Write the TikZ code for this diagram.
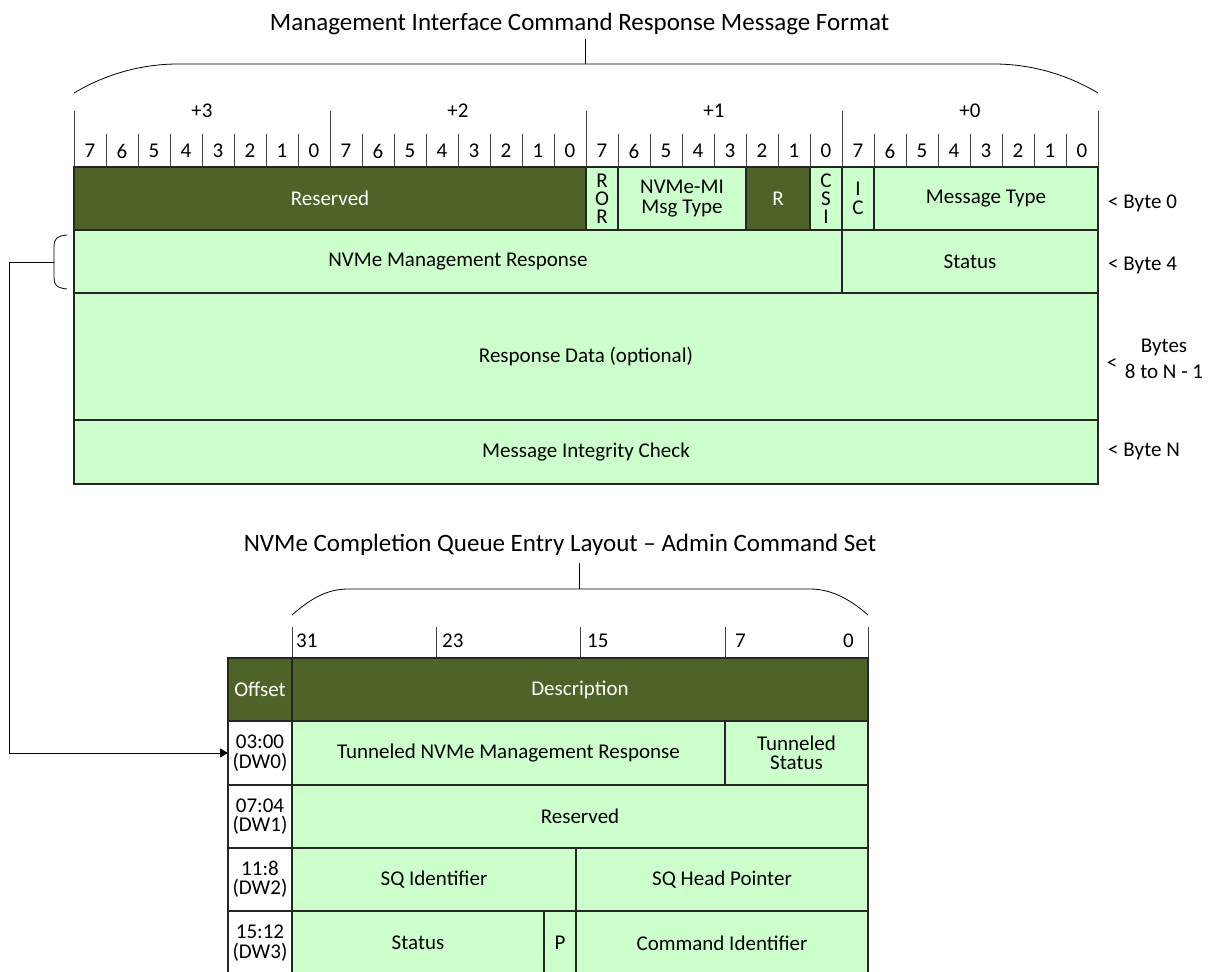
\documentclass[tikz,border=0pt]{standalone}
\usepackage{fontspec}
\setmainfont{Carlito}
\usetikzlibrary{arrows.meta}
\definecolor{olive}{HTML}{4F6228}
\definecolor{lite}{HTML}{CCFFCC}
\definecolor{edge}{HTML}{262626}
\definecolor{rule}{HTML}{404040}
\newcommand{\bodyf}{\fontsize{21}{19.5}\selectfont}
\newcommand{\stackf}{\fontsize{21}{18}\selectfont}
\newcommand{\ttlf}{\fontsize{25}{30}\selectfont}
\tikzset{
  cell/.style={draw=edge, line width=1.3pt, fill=lite, inner sep=0pt, outer sep=0pt,
    anchor=north west, align=center, font=\bodyf},
  dark/.style={cell, fill=olive, text=white},
  blank/.style={cell, fill=white},
  stack/.style={cell, font=\stackf},
  ruler/.style={draw=rule, line width=1pt},
  brace/.style={draw=black, line width=0.8pt},
  lab/.style={font=\bodyf, inner sep=0pt},
  ttl/.style={font=\ttlf, inner sep=0pt, anchor=base},
  link/.style={draw=black, line width=0.9pt, -{Triangle[length=8pt,width=9pt]}},
}

\begin{document}
\begin{tikzpicture}[x=1pt, y=-1pt]
  \useasboundingbox (0,0) rectangle (1209,971);

  % response message format
  \node[ttl] (ttlA) at (579.5,31) {Management Interface Command Response Message Format};
  \draw[brace] (585,39) -- (585,64);
  \draw[brace] (74,93) .. controls (104,75) and (140,64) .. (178,64) -- (994,64)
    .. controls (1032,64) and (1068,75) .. (1098,93);

  \foreach \k in {0,8,16,24,32}
    \draw[ruler] (74+32*\k,111) -- (74+32*\k,167);
  \foreach \k in {1,...,31}
    \draw[ruler] (74+32*\k,134) -- (74+32*\k,167);
  \foreach \b/\t in {0/+3,1/+2,2/+1,3/+0}
    \node[lab] (byte\b) at (202+256*\b,111) {\t};
  \foreach \k in {0,...,31}{
    \pgfmathtruncatemacro\bit{7-mod(\k,8)}
    \node[lab] (bit\k) at (90+32*\k,151) {\bit};
  }

  \node[dark, minimum width=512pt, minimum height=63pt] (rsvd) at (74,167) {Reserved};
  \node[stack, minimum width=32pt, minimum height=63pt] (ror) at (586,167) {R\\O\\R};
  \node[cell, minimum width=128pt, minimum height=63pt] (mimt) at (618,167) {NVMe-MI\\Msg Type};
  \node[dark, minimum width=64pt, minimum height=63pt] (rbits) at (746,167) {R};
  \node[stack, minimum width=32pt, minimum height=63pt] (csi) at (810,167) {C\\S\\I};
  \node[cell, minimum width=32pt, minimum height=63pt] (ic) at (842,167) {I\\C};
  \node[cell, minimum width=224pt, minimum height=63pt] (mtype) at (874,167) {Message Type};
  \node[cell, minimum width=768pt, minimum height=63pt] (mgmt) at (74,230) {NVMe Management Response};
  \node[cell, minimum width=256pt, minimum height=63pt] (stat) at (842,230) {Status};
  \node[cell, minimum width=1024pt, minimum height=127pt] (rdata) at (74,293) {Response Data (optional)};
  \node[cell, minimum width=1024pt, minimum height=64pt] (mic) at (74,420) {Message Integrity Check};

  \node[lab, anchor=west] (b0) at (1108,203) {< Byte 0};
  \node[lab, anchor=west] (b4) at (1108,265) {< Byte 4};
  \node[lab] (lt) at (1112,364) {<};
  \node[lab, align=center, font=\fontsize{21}{26}\selectfont] (b8) at (1164,359) {Bytes\\8 to N - 1};
  \node[lab, anchor=west] (bn) at (1108,451) {< Byte N};

  % completion queue entry
  \node[ttl] (ttlB) at (560,551) {NVMe Completion Queue Entry Layout -- Admin Command Set};
  \draw[brace] (579,563) -- (579,589);
  \draw[brace] (292,615) .. controls (308,601) and (325,589) .. (348,589) -- (810,589)
    .. controls (833,589) and (852,601) .. (868,615);

  \foreach \x in {292,436,580,725,868}
    \draw[ruler] (\x,627) -- (\x,658);
  \foreach \x/\t in {296/31,442/23,587/15,735/7}
    \node[lab, anchor=west] (bn\t) at (\x,641) {\t};
  \node[lab, anchor=east] (bn0) at (854,641) {0};

  \node[dark, minimum width=64pt, minimum height=63pt] (offh) at (228,658) {Offset};
  \node[dark, minimum width=576pt, minimum height=63pt] (desc) at (292,658) {Description};
  \foreach \i/\y/\h/\o in {0/721/64/03:00, 1/785/63/07:04, 2/848/63/11:8, 3/911/64/15:12}
    \node[blank, minimum width=64pt, minimum height=\h pt] (off\i) at (228,\y) {\o\\(DW\i)};

  \node[cell, minimum width=433pt, minimum height=64pt] (tresp) at (292,721) {Tunneled NVMe Management Response};
  \node[cell, minimum width=143pt, minimum height=64pt] (tstat) at (725,721) {Tunneled\\Status};
  \node[cell, minimum width=576pt, minimum height=63pt] (rsvdB) at (292,785) {Reserved};
  \node[cell, minimum width=284pt, minimum height=63pt] (sqid) at (292,848) {SQ Identifier};
  \node[cell, minimum width=292pt, minimum height=63pt] (sqhp) at (576,848) {SQ Head Pointer};
  \node[cell, minimum width=252pt, minimum height=64pt] (cqst) at (292,911) {Status};
  \node[cell, minimum width=32pt, minimum height=64pt] (pbit) at (544,911) {P};
  \node[cell, minimum width=292pt, minimum height=64pt] (cid) at (576,911) {Command Identifier};

  % tunnel link
  \draw[brace] (67,235) .. controls (57,236) and (54,239) .. (54,246) -- (54,278)
    .. controls (54,285) and (57,288) .. (67,289);
  \coordinate (lbr) at (54,262);
  \coordinate (elbow) at (9,262);
  \draw[link] (lbr) -- (elbow) |- (off0.west);
\end{tikzpicture}
\end{document}
